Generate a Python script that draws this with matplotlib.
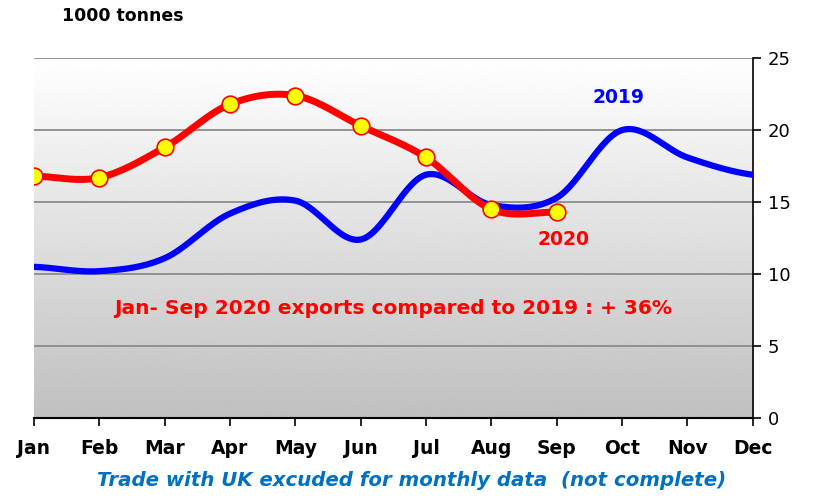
import numpy as np
import matplotlib
matplotlib.use("Agg")
import matplotlib.pyplot as plt

months = ["Jan", "Feb", "Mar", "Apr", "May", "Jun", "Jul", "Aug", "Sep", "Oct", "Nov", "Dec"]
exports_2019 = [10.5, 10.2, 11.1, 14.2, 15.1, 12.4, 16.9, 14.8, 15.3, 20.0, 18.1, 16.9]
exports_2020 = [16.8, 16.7, 18.8, 21.8, 22.4, 20.3, 18.1, 14.5, 14.3]
y_ticks = [0, 5, 10, 15, 20, 25]


def smooth(ys, n=30):
    # catmull-rom style smoothing, like the spreadsheet "smoothed line"
    ys = np.asarray(ys, dtype=float)
    p = np.concatenate([[ys[0]], ys, [ys[-1]]])
    xs_out, ys_out = [], []
    for i in range(len(ys) - 1):
        p0, p1, p2, p3 = p[i], p[i + 1], p[i + 2], p[i + 3]
        t = np.linspace(0, 1, n, endpoint=False)
        y = 0.5 * ((2 * p1) + (-p0 + p2) * t + (2 * p0 - 5 * p1 + 4 * p2 - p3) * t ** 2
                   + (-p0 + 3 * p1 - 3 * p2 + p3) * t ** 3)
        xs_out.append(i + t)
        ys_out.append(y)
    xs_out.append([len(ys) - 1])
    ys_out.append([ys[-1]])
    return np.concatenate(xs_out), np.concatenate(ys_out)


fig = plt.figure(figsize=(8.13, 4.97), dpi=100)
ax = fig.add_axes([0.0418, 0.159, 0.884, 0.724])

# gradient background
grad = np.linspace(1.0, 0.75, 256).reshape(-1, 1)
ax.imshow(grad, extent=[0, 11, 0, 25], aspect="auto", cmap="gray", vmin=0, vmax=1,
          origin="upper", zorder=0)

for yv in y_ticks[1:]:
    ax.axhline(yv, color="#8c8c8c", lw=1.3, zorder=1)

x19, y19 = smooth(exports_2019)
ax.plot(x19, y19, color="#0000ff", lw=4.5, solid_capstyle="round", zorder=3)

x20, y20 = smooth(exports_2020)
ax.plot(x20, y20, color="#ff0000", lw=5, solid_capstyle="round", zorder=4)
ax.plot(range(len(exports_2020)), exports_2020, ls="none", marker="o", ms=12,
        mfc="#ffff00", mec="#ff0000", mew=1.2, zorder=5)

ax.set_xlim(0, 11)
ax.set_ylim(0, 25)
ax.set_xticks(range(12))
ax.set_xticklabels(months, fontsize=13.5, fontweight="bold")
ax.set_yticks(y_ticks)
ax.yaxis.tick_right()
ax.tick_params(axis="y", labelsize=13, length=6, width=1.2, pad=5)
ax.tick_params(axis="x", length=6, width=1.2, pad=9)
ax.spines["left"].set_visible(False)
ax.spines["top"].set_visible(False)
ax.spines["bottom"].set_linewidth(1.5)
ax.spines["right"].set_linewidth(1.2)

ax.text(8.95, 22.3, "2019", color="#0000ff", fontsize=13.5, fontweight="bold", ha="center", va="center")
ax.text(8.1, 12.4, "2020", color="#ff0000", fontsize=13.5, fontweight="bold", ha="center", va="center")
ax.text(5.5, 7.6, "Jan- Sep 2020 exports compared to 2019 : + 36%", color="#ff0000",
        fontsize=14.5, fontweight="bold", ha="center", va="center")

fig.text(0.076, 0.968, "1000 tonnes", fontsize=12.5, fontweight="bold", ha="left", va="center")
fig.text(0.506, 0.034, "Trade with UK excuded for monthly data  (not complete)", color="#0070c0",
         fontsize=14.2, fontstyle="italic", fontweight="bold", ha="center", va="center")

fig.savefig("out.png", dpi=100)
